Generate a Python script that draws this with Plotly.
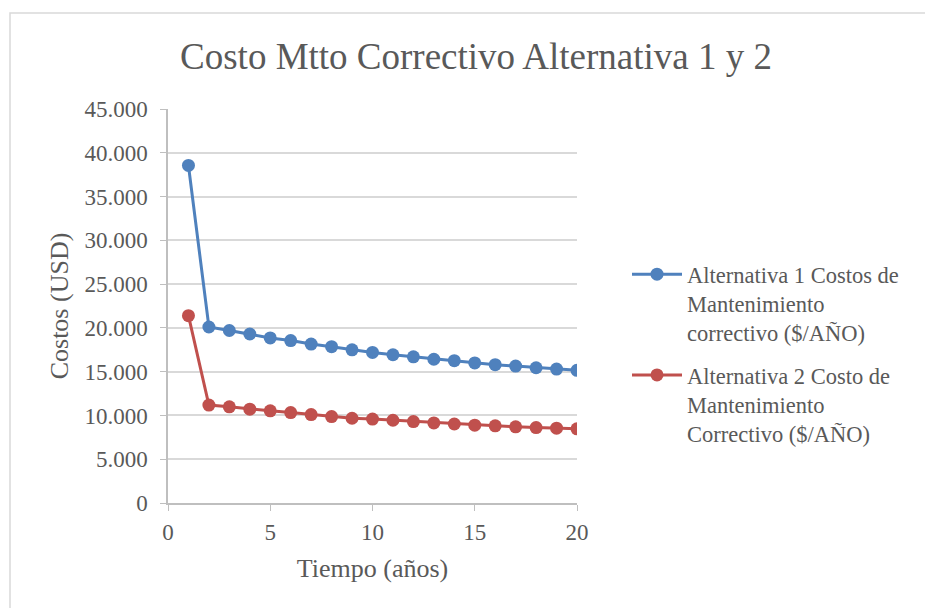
import plotly.graph_objects as go

years = list(range(1, 21))
alt1 = [38550, 20100, 19700, 19300, 18850, 18550, 18150, 17850, 17500, 17200,
        16930, 16700, 16420, 16250, 16000, 15800, 15640, 15450, 15300, 15150]
alt2 = [21400, 11180, 10980, 10720, 10530, 10330, 10100, 9870, 9680, 9580,
        9450, 9300, 9150, 9020, 8890, 8810, 8700, 8620, 8550, 8470]
name1 = "Alternativa 1 Costos de<br>Mantenimiento<br>correctivo ($/AÑO)"
name2 = "Alternativa 2 Costo de<br>Mantenimiento<br>Correctivo ($/AÑO)"
title = "Costo Mtto Correctivo Alternativa 1 y 2"

font = "Liberation Serif"
txt = "#595959"

fig = go.Figure()
fig.add_trace(go.Scatter(x=years, y=alt1, name=name1, mode="lines+markers",
                         legendgroup="g1",
                         line=dict(color="#4F81BD", width=3),
                         marker=dict(color="#4F81BD", size=13)))
fig.add_trace(go.Scatter(x=years, y=alt2, name=name2, mode="lines+markers",
                         legendgroup="g2",
                         line=dict(color="#C0504D", width=3),
                         marker=dict(color="#C0504D", size=13)))

W, H = 925, 608
L, T = 168, 109
pw, ph = 409, 394
R, B = W - L - pw, H - T - ph

fig.update_layout(
    width=W, height=H,
    margin=dict(l=L, r=R, t=T, b=B),
    paper_bgcolor="white", plot_bgcolor="white",
    separators=",.",
    font=dict(family=font, color=txt, size=22),
    title=dict(text=title, x=476 / W, xanchor="center",
               y=1 - 56 / H, yanchor="middle",
               font=dict(size=37, color=txt, family=font)),
    xaxis=dict(range=[0, 20], tickvals=[0, 5, 10, 15, 20],
               showgrid=False, zeroline=False,
               showline=True, linecolor="#BFBFBF", linewidth=1.5,
               ticks="outside", tickcolor="#BFBFBF", ticklen=6,
               ticklabelstandoff=2,
               tickfont=dict(size=23, color=txt, family=font),
               title=dict(text="Tiempo (años)", font=dict(size=26, color=txt, family=font),
                          standoff=14)),
    yaxis=dict(range=[0, 45000], dtick=5000, tickformat=",",
               showgrid=True, gridcolor="#D9D9D9", gridwidth=1.5,
               zeroline=False,
               showline=True, linecolor="#BFBFBF", linewidth=1.5,
               ticks="outside", tickcolor="#BFBFBF", ticklen=6,
               ticklabelstandoff=8,
               tickfont=dict(size=23, color=txt, family=font),
               title=dict(text="Costos (USD)", font=dict(size=26, color=txt, family=font),
                          standoff=8)),
    legend=dict(x=(627 - L) / pw, y=(502 - 252) / ph, xanchor="left", yanchor="top",
                font=dict(size=22.5, color=txt, family=font), valign="top",
                bgcolor="rgba(0,0,0,0)", tracegroupgap=10, itemwidth=50),
    shapes=[dict(type="rect", xref="paper", yref="paper",
                 x0=(10 - L) / pw, x1=(940 - L) / pw,
                 y0=(T + ph - 620) / ph, y1=(T + ph - 13) / ph,
                 line=dict(color="#D9D9D9", width=1.5), layer="below")],
)

fig.write_html("out.html", config={"displayModeBar": False},
               post_script="document.body.style.margin='0';")
